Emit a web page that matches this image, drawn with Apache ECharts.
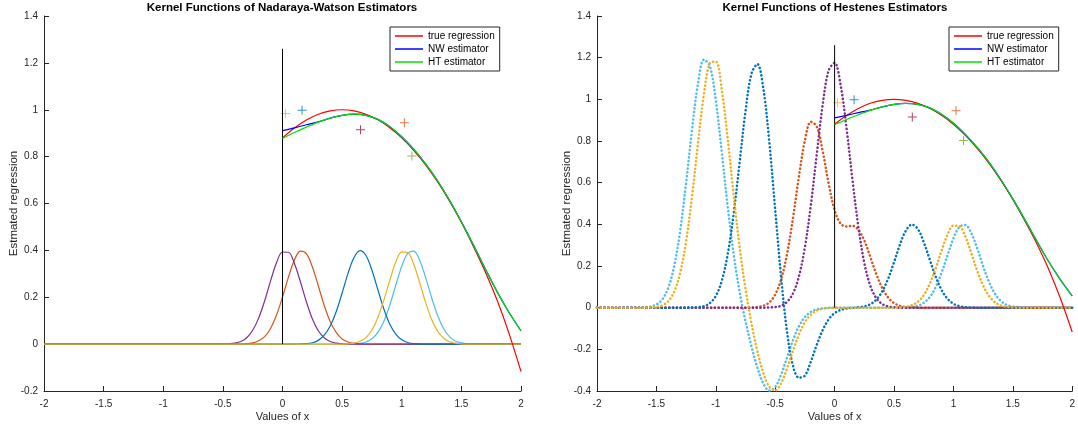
<!DOCTYPE html>
<html>
<head>
<meta charset="utf-8">
<script src="https://cdn.jsdelivr.net/npm/echarts@6/dist/echarts.min.js"></script>
<style>
  html, body { margin: 0; padding: 0; background: #fff; }
  #chart { width: 1078px; height: 429px; }
</style>
</head>
<body>
<div id="chart"></div>
<script>
// Sample positions shared by every kernel curve
const X_GRID = [
  -2, -1.6, -1.55, -1.5, -1.45, -1.4, -1.35, -1.3, -1.25, -1.2, -1.15,
  -1.1, -1.05, -1, -0.95, -0.9, -0.85, -0.8, -0.75, -0.7, -0.65, -0.6,
  -0.55, -0.5, -0.45, -0.4, -0.35, -0.3, -0.25, -0.2, -0.15, -0.1, -0.05,
  0, 0.05, 0.1, 0.15, 0.2, 0.25, 0.3, 0.35, 0.4, 0.45, 0.5,
  0.55, 0.6, 0.65, 0.7, 0.75, 0.8, 0.85, 0.9, 0.95, 1, 1.05,
  1.1, 1.15, 1.2, 1.25, 1.3, 1.35, 1.4, 1.45, 1.5, 1.55, 1.6,
  2
];

// Nadaraya-Watson kernels (one per observation)
const NW_K_PURPLE = [
  0, 0, 0, 0, 0, 0, 0, 0, 0, 0, 0,
  0, 0, 0, 0, 0, 0, 0, 0, 0, 0, 0,
  0, 0, 0.001, 0.004, 0.011, 0.027, 0.059, 0.111, 0.184, 0.270, 0.347,
  0.393, 0.392, 0.344, 0.266, 0.181, 0.108, 0.057, 0.027, 0.011, 0.004, 0.001,
  0, 0, 0, 0, 0, 0, 0, 0, 0, 0, 0,
  0, 0, 0, 0, 0, 0, 0, 0, 0, 0, 0,
  0
];
const NW_K_ORANGE = [
  0, 0, 0, 0, 0, 0, 0, 0, 0, 0, 0,
  0, 0, 0, 0, 0, 0, 0, 0, 0, 0, 0,
  0, 0, 0, 0, 0, 0.002, 0.005, 0.014, 0.032, 0.067, 0.124,
  0.201, 0.286, 0.359, 0.397, 0.386, 0.330, 0.249, 0.165, 0.096, 0.050, 0.022,
  0.009, 0.003, 0.001, 0, 0, 0, 0, 0, 0, 0, 0,
  0, 0, 0, 0, 0, 0, 0, 0, 0, 0, 0,
  0
];
const NW_K_BLUE = [
  0, 0, 0, 0, 0, 0, 0, 0, 0, 0, 0,
  0, 0, 0, 0, 0, 0, 0, 0, 0, 0, 0,
  0, 0, 0, 0, 0, 0, 0, 0, 0, 0, 0,
  0, 0, 0, 0.001, 0.002, 0.006, 0.016, 0.038, 0.077, 0.138, 0.218,
  0.303, 0.370, 0.399, 0.378, 0.315, 0.232, 0.150, 0.085, 0.043, 0.019, 0.007,
  0.002, 0.001, 0, 0, 0, 0, 0, 0, 0, 0, 0,
  0
];
const NW_K_YELLOW = [
  0, 0, 0, 0, 0, 0, 0, 0, 0, 0, 0,
  0, 0, 0, 0, 0, 0, 0, 0, 0, 0, 0,
  0, 0, 0, 0, 0, 0, 0, 0, 0, 0, 0,
  0, 0, 0, 0, 0, 0, 0, 0, 0, 0, 0,
  0.001, 0.004, 0.012, 0.028, 0.060, 0.114, 0.188, 0.273, 0.350, 0.394, 0.391,
  0.342, 0.263, 0.178, 0.106, 0.056, 0.026, 0.010, 0.004, 0.001, 0, 0,
  0
];
const NW_K_LBLUE = [
  0, 0, 0, 0, 0, 0, 0, 0, 0, 0, 0,
  0, 0, 0, 0, 0, 0, 0, 0, 0, 0, 0,
  0, 0, 0, 0, 0, 0, 0, 0, 0, 0, 0,
  0, 0, 0, 0, 0, 0, 0, 0, 0, 0, 0,
  0, 0.001, 0.003, 0.009, 0.023, 0.050, 0.098, 0.167, 0.251, 0.332, 0.387,
  0.397, 0.358, 0.285, 0.199, 0.123, 0.067, 0.032, 0.013, 0.005, 0.002, 0,
  0
];

// Hestenes kernels (reflected terms on the negative side)
const HT_K_PURPLE = [
  0, 0, 0, 0, 0, 0, 0, 0, 0, 0, 0,
  0, 0, 0, 0, 0, 0, 0, 0, 0, 0, 0,
  0.001, 0.003, 0.009, 0.028, 0.069, 0.151, 0.290, 0.492, 0.737, 0.975, 1.139,
  1.175, 1.071, 0.863, 0.615, 0.387, 0.215, 0.106, 0.046, 0.018, 0.006, 0.002,
  0, 0, 0, 0, 0, 0, 0, 0, 0, 0, 0,
  0, 0, 0, 0, 0, 0, 0, 0, 0, 0, 0,
  0
];
const HT_K_ORANGE = [
  0, 0, 0, 0, 0, 0, 0, 0, 0, 0, 0,
  0, 0, 0, 0, 0, 0, 0, 0, 0.001, 0.003, 0.009,
  0.025, 0.063, 0.136, 0.259, 0.432, 0.630, 0.802, 0.892, 0.869, 0.750, 0.595,
  0.468, 0.403, 0.390, 0.393, 0.374, 0.322, 0.244, 0.163, 0.095, 0.049, 0.022,
  0.009, 0.003, 0.001, 0, 0, 0, 0, 0, 0, 0, 0,
  0, 0, 0, 0, 0, 0, 0, 0, 0, 0, 0,
  0
];
const HT_K_BLUE = [
  0, 0, 0, 0, 0, 0, 0, 0, 0, 0.001, 0.002,
  0.007, 0.022, 0.056, 0.128, 0.256, 0.449, 0.694, 0.942, 1.123, 1.169, 1.052,
  0.796, 0.468, 0.143, -0.118, -0.280, -0.336, -0.326, -0.258, -0.178, -0.107, -0.056,
  -0.026, -0.011, -0.004, -0.001, 0.002, 0.006, 0.016, 0.038, 0.077, 0.138, 0.218,
  0.303, 0.370, 0.399, 0.378, 0.315, 0.232, 0.150, 0.085, 0.043, 0.019, 0.007,
  0.002, 0.001, 0, 0, 0, 0, 0, 0, 0, 0, 0,
  0
];
const HT_K_YELLOW = [
  0, 0, 0.001, 0.004, 0.011, 0.031, 0.077, 0.167, 0.318, 0.533, 0.788,
  1.025, 1.173, 1.181, 1.046, 0.810, 0.542, 0.293, 0.089, -0.075, -0.209, -0.313,
  -0.380, -0.397, -0.363, -0.291, -0.206, -0.128, -0.070, -0.034, -0.014, -0.005, -0.002,
  -0.001, 0, 0, 0, 0, 0, 0, 0, 0, 0, 0,
  0.001, 0.004, 0.012, 0.028, 0.060, 0.114, 0.188, 0.273, 0.350, 0.394, 0.391,
  0.342, 0.263, 0.178, 0.106, 0.056, 0.026, 0.010, 0.004, 0.001, 0, 0,
  0
];
const HT_K_LBLUE = [
  0, 0.001, 0.005, 0.015, 0.040, 0.095, 0.200, 0.368, 0.598, 0.854, 1.075,
  1.190, 1.160, 0.994, 0.746, 0.485, 0.257, 0.077, -0.065, -0.185, -0.288, -0.364,
  -0.398, -0.381, -0.321, -0.238, -0.155, -0.089, -0.045, -0.020, -0.008, -0.003, -0.001,
  0, 0, 0, 0, 0, 0, 0, 0, 0, 0, 0,
  0, 0.001, 0.003, 0.009, 0.023, 0.050, 0.098, 0.167, 0.251, 0.332, 0.387,
  0.397, 0.358, 0.285, 0.199, 0.123, 0.067, 0.032, 0.013, 0.005, 0.002, 0,
  0
];

// Regression curves on [0, 2]
const X_REG = [0, 0.1, 0.2, 0.3, 0.4, 0.5, 0.6, 0.7, 0.8, 0.9, 1.0,
               1.1, 1.2, 1.3, 1.4, 1.5, 1.6, 1.7, 1.8, 1.9, 2.0];
const TRUE_REG = [0.880, 0.922, 0.956, 0.981, 0.995, 1.000, 0.995, 0.981, 0.957, 0.923, 0.880,
                  0.827, 0.765, 0.693, 0.611, 0.520, 0.418, 0.309, 0.187, 0.045, -0.117];
const NW_EST = [0.911, 0.923, 0.936, 0.948, 0.964, 0.976, 0.981, 0.976, 0.959, 0.928, 0.885,
                0.832, 0.769, 0.697, 0.614, 0.522, 0.424, 0.322, 0.223, 0.135, 0.056];
const HT_EST = [0.878, 0.903, 0.926, 0.947, 0.964, 0.976, 0.981, 0.976, 0.959, 0.928, 0.885,
                0.832, 0.769, 0.697, 0.614, 0.522, 0.424, 0.322, 0.223, 0.135, 0.056];

// Observations
const OBS_X = [0.024, 0.164, 0.654, 1.022, 1.085];
const OBS_Y = [0.984, 0.998, 0.915, 0.945, 0.803];
const OBS_COLORS = ['#EDB120', '#0072BD', '#A2142F', '#D95319', '#77AC30'];

// Boundary marker at x = 0
const BOUNDARY_X = [0, 0];
const BOUNDARY_Y = [0, 1.26];

const X_TICKS = { min: -2, max: 2, interval: 0.5 };
const Y_TICKS_NW = { min: -0.2, max: 1.4, interval: 0.2 };
const Y_TICKS_HT = { min: -0.4, max: 1.4, interval: 0.2 };

const LEGEND_NAMES = ['true regression', 'NW estimator', 'HT estimator'];
const TITLES = ['Kernel Functions of Nadaraya-Watson Estimators', 'Kernel Functions of Hestenes Estimators'];

const FONT = '"Liberation Sans", Arial, Helvetica, sans-serif';
const AX = '#262626';
const C = { blue: '#0072BD', orange: '#D95319', yellow: '#EDB120', purple: '#7E2F8E', lblue: '#4DBEEE' };

const pairs = (xs, ys) => xs.map((x, i) => [x, ys[i]]);
const PLUS = 'path://M4,0H5V4H9V5H5V9H4V5H0V4H4Z';

function xAxisFor(gi) {
  return {
    type: 'value', gridIndex: gi, min: X_TICKS.min, max: X_TICKS.max, interval: X_TICKS.interval,
    splitLine: { show: false },
    axisLine: { onZero: false, lineStyle: { color: AX, width: 1 } },
    axisTick: { inside: true, length: 5, lineStyle: { color: AX } },
    axisLabel: { color: AX, fontSize: 10, fontFamily: FONT, margin: 8 },
    name: 'Values of x', nameLocation: 'middle', nameGap: 20, nameMoveOverlap: false,
    nameTextStyle: { color: AX, fontSize: 11, fontFamily: FONT, verticalAlign: 'top' }
  };
}
function yAxisFor(gi, t) {
  return {
    type: 'value', gridIndex: gi, min: t.min, max: t.max, interval: t.interval,
    splitLine: { show: false },
    axisLine: { onZero: false, lineStyle: { color: AX, width: 1 } },
    axisTick: { inside: true, length: 5, lineStyle: { color: AX } },
    axisLabel: { color: AX, fontSize: 10, fontFamily: FONT, margin: 6 },
    name: 'Estmated regression', nameLocation: 'middle', nameGap: 30, nameMoveOverlap: false,
    nameTextStyle: { color: AX, fontSize: 11.5, fontFamily: FONT, verticalAlign: 'middle' }
  };
}

function kernelLine(gi, ys, color, dotted) {
  return {
    type: 'line', xAxisIndex: gi, yAxisIndex: gi, data: pairs(X_GRID, ys),
    smooth: 0.35, symbol: 'none', silent: true,
    lineStyle: dotted
      ? { color: color, width: 2.5, type: [0.2, 3.6], cap: 'round' }
      : { color: color, width: 1.2 }
  };
}
function regLine(gi, name, ys, color) {
  return {
    type: 'line', name: name, xAxisIndex: gi, yAxisIndex: gi, data: pairs(X_REG, ys),
    smooth: 0.35, symbol: 'none', silent: true,
    lineStyle: { color: color, width: 1.2 }, itemStyle: { color: color }
  };
}
function panelSeries(gi, kernels, dotted) {
  const s = [];
  // kernels, bottom to top
  s.push(kernelLine(gi, kernels.lblue, C.lblue, dotted));
  s.push(kernelLine(gi, kernels.orange, C.orange, dotted));
  s.push(kernelLine(gi, kernels.purple, C.purple, dotted));
  s.push(kernelLine(gi, kernels.blue, C.blue, dotted));
  s.push(kernelLine(gi, kernels.yellow, C.yellow, dotted));
  // boundary line
  s.push({
    type: 'line', xAxisIndex: gi, yAxisIndex: gi, data: pairs(BOUNDARY_X, BOUNDARY_Y),
    symbol: 'none', silent: true, lineStyle: { color: '#000', width: 1 }
  });
  // regression curves
  s.push(regLine(gi, LEGEND_NAMES[0], TRUE_REG, '#FF0000'));
  s.push(regLine(gi, LEGEND_NAMES[1], NW_EST, '#0000FF'));
  s.push(regLine(gi, LEGEND_NAMES[2], HT_EST, '#00E000'));
  // observations
  s.push({
    type: 'scatter', xAxisIndex: gi, yAxisIndex: gi, symbol: PLUS, symbolSize: 9, silent: true,
    data: OBS_X.map((x, i) => ({ value: [x, OBS_Y[i]], itemStyle: { color: OBS_COLORS[i] } }))
  });
  return s;
}

function legendFor(left) {
  return {
    data: LEGEND_NAMES, orient: 'vertical', left: left, top: 27,
    icon: 'rect', itemWidth: 28, itemHeight: 1.5, itemGap: 1,
    padding: [3, 5, 3, 5], borderColor: AX, borderWidth: 1, backgroundColor: '#fff',
    selectedMode: false,
    textStyle: { color: '#000', fontSize: 10, fontFamily: FONT, lineHeight: 12 }
  };
}

const chart = echarts.init(document.getElementById('chart'), null, { renderer: 'canvas' });
chart.setOption({
  animation: false,
  backgroundColor: '#fff',
  grid: [
    { left: 44, top: 16, width: 477, height: 375 },
    { left: 597, top: 16, width: 476, height: 375 }
  ],
  xAxis: [xAxisFor(0), xAxisFor(1)],
  yAxis: [yAxisFor(0, Y_TICKS_NW), yAxisFor(1, Y_TICKS_HT)],
  legend: [legendFor(390), legendFor(949)],
  graphic: [
    { type: 'text', x: 282, y: 8, style: { text: TITLES[0], font: 'bold 11.5px ' + FONT, fill: '#000', textAlign: 'center', textVerticalAlign: 'middle' } },
    { type: 'text', x: 835, y: 8, style: { text: TITLES[1], font: 'bold 11.5px ' + FONT, fill: '#000', textAlign: 'center', textVerticalAlign: 'middle' } }
  ],
  series: [
    ...panelSeries(0, { purple: NW_K_PURPLE, orange: NW_K_ORANGE, blue: NW_K_BLUE, yellow: NW_K_YELLOW, lblue: NW_K_LBLUE }, false),
    ...panelSeries(1, { purple: HT_K_PURPLE, orange: HT_K_ORANGE, blue: HT_K_BLUE, yellow: HT_K_YELLOW, lblue: HT_K_LBLUE }, true)
  ]
});
</script>
</body>
</html>
